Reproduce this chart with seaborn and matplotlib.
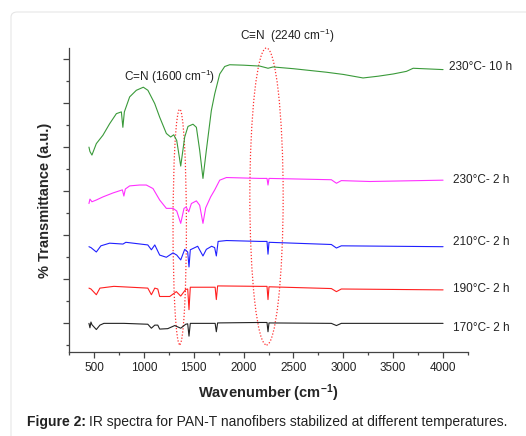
import matplotlib
matplotlib.use("Agg")
import matplotlib.pyplot as plt
import seaborn as sns
import pandas as pd
from matplotlib.patches import Ellipse, FancyBboxPatch
from matplotlib.ticker import MultipleLocator
from matplotlib.transforms import offset_copy

# ---------------- data ----------------
labels = ["170°C- 2 h", "190°C- 2 h", "210°C- 2 h", "230°C- 2 h", "230°C- 10 h"]
colors = ["#222222", "#ff2020", "#2020ff", "#ff30ff", "#3a9a3a"]

wn_170 = [450, 460, 470, 480, 524, 560, 600, 800, 1040, 1076, 1110, 1140, 1159, 1240, 1310, 1370, 1420, 1440, 1453, 1466, 1700, 1715, 1727, 1740, 2162, 2235, 2245, 2255, 2880, 2931, 2980, 4000]
t_170 = [0.0, -0.1, 0.03, -0.03, -0.14, -0.04, 0.0, 0.0, -0.02, -0.11, -0.04, -0.04, -0.13, -0.12, -0.05, -0.11, -0.02, -0.01, -0.29, 0.0, 0.0, 0.0, -0.19, 0.01, 0.02, 0.02, -0.19, 0.01, 0.0, -0.05, 0.0, 0.0]

wn_190 = [450, 470, 524, 560, 700, 1040, 1076, 1110, 1140, 1159, 1260, 1326, 1370, 1420, 1440, 1453, 1466, 1700, 1715, 1727, 1740, 2162, 2235, 2245, 2255, 2880, 2931, 2980, 4000]
t_190 = [0.80, 0.78, 0.65, 0.80, 0.84, 0.80, 0.65, 0.80, 0.78, 0.61, 0.61, 0.72, 0.62, 0.77, 0.78, 0.31, 0.82, 0.82, 0.82, 0.54, 0.85, 0.84, 0.84, 0.54, 0.83, 0.79, 0.72, 0.78, 0.76]

wn_210 = [450, 470, 524, 570, 657, 791, 820, 1040, 1076, 1110, 1159, 1226, 1293, 1330, 1370, 1410, 1440, 1453, 1466, 1540, 1593, 1627, 1680, 1710, 1727, 1745, 1830, 2162, 2235, 2245, 2255, 2880, 2931, 2980, 4000]
t_210 = [1.74, 1.72, 1.62, 1.76, 1.82, 1.80, 1.84, 1.78, 1.67, 1.78, 1.55, 1.50, 1.60, 1.55, 1.44, 1.68, 1.62, 1.28, 1.67, 1.75, 1.53, 1.68, 1.75, 1.72, 1.53, 1.86, 1.88, 1.86, 1.86, 1.57, 1.84, 1.79, 1.71, 1.76, 1.74]

wn_230 = [450, 460, 480, 524, 590, 691, 785, 800, 815, 858, 958, 1025, 1092, 1159, 1226, 1293, 1330, 1370, 1403, 1425, 1450, 1477, 1527, 1560, 1593, 1620, 1670, 1711, 1761, 1828, 2162, 2235, 2245, 2255, 2880, 2931, 2980, 3266, 4000]
t_230 = [2.72, 2.82, 2.76, 2.80, 2.87, 2.96, 3.03, 2.89, 3.05, 3.12, 3.14, 3.14, 3.06, 2.80, 2.61, 2.61, 2.55, 2.27, 2.61, 2.64, 2.53, 2.72, 2.78, 2.68, 2.27, 2.62, 2.87, 3.03, 3.25, 3.31, 3.29, 3.29, 3.14, 3.29, 3.26, 3.18, 3.24, 3.22, 3.25]

wn_230_10 = [450, 460, 480, 524, 590, 657, 725, 775, 790, 805, 858, 925, 995, 1041, 1109, 1159, 1226, 1269, 1300, 1330, 1370, 1410, 1443, 1493, 1527, 1560, 1593, 1627, 1677, 1711, 1761, 1811, 1861, 2000, 2162, 2230, 2245, 2296, 2500, 2831, 3000, 3198, 3350, 3499, 3633, 3700, 3800, 4000]
t_230_10 = [4.00, 3.90, 3.82, 4.08, 4.27, 4.53, 4.76, 4.80, 4.45, 4.80, 5.14, 5.29, 5.36, 5.29, 4.99, 4.68, 4.31, 4.23, 4.28, 4.15, 3.57, 4.23, 4.47, 4.52, 4.45, 3.93, 3.29, 3.93, 4.83, 5.21, 5.66, 5.83, 5.87, 5.86, 5.84, 5.80, 5.79, 5.82, 5.78, 5.70, 5.65, 5.57, 5.61, 5.66, 5.72, 5.79, 5.78, 5.76]

label_x = [4100, 4100, 4100, 4100, 4055]
label_y = [-0.1, 0.79, 1.85, 3.25, 5.82]

xticks = [500, 1000, 1500, 2000, 2500, 3000, 3500, 4000]

# ---------------- build long table ----------------
series = [(wn_170, t_170), (wn_190, t_190), (wn_210, t_210), (wn_230, t_230), (wn_230_10, t_230_10)]
frames = []
for lab, (w, t) in zip(labels, series):
    frames.append(pd.DataFrame({"wn": w, "T": t, "sample": lab}))
df = pd.concat(frames, ignore_index=True)

# ---------------- style ----------------
sns.set_theme(style="ticks")
plt.rcParams["font.family"] = ["Liberation Sans", "DejaVu Sans"]
plt.rcParams["mathtext.fontset"] = "custom"
plt.rcParams["mathtext.rm"] = "Liberation Sans"
plt.rcParams["mathtext.bf"] = "Liberation Sans:bold"
plt.rcParams["mathtext.it"] = "Liberation Sans:italic"

W, H = 526, 436
fig = plt.figure(figsize=(W / 100, H / 100), dpi=100)
fig.patch.set_facecolor("white")

# rounded border of the figure panel
border = FancyBboxPatch((11 / W, -0.1), 1.2, (H - 12) / H + 0.1,
                        boxstyle="round,pad=0,rounding_size=0.012",
                        transform=fig.transFigure, facecolor="none",
                        edgecolor="#e6e6e6", linewidth=0.8)
fig.patches.append(border)

ax = fig.add_axes([69 / W, (H - 352) / H, (468 - 69) / W, (352 - 48) / H])

sns.lineplot(data=df, x="wn", y="T", hue="sample", palette=dict(zip(labels, colors)),
             hue_order=labels, linewidth=0.8, legend=False, ax=ax, sort=False,
             estimator=None)

ax.set_xlim(250, 4250)
ax.set_ylim(-0.65, 6.25)
ax.set_xticks(xticks)
ax.xaxis.set_minor_locator(MultipleLocator(250))
ax.yaxis.set_major_locator(MultipleLocator(1))
ax.yaxis.set_minor_locator(MultipleLocator(0.5))
ax.set_yticklabels([])
ax.tick_params(axis="both", which="major", direction="out", length=4.5, width=0.9,
               color="#444444", labelsize=8.5, labelcolor="#222222", pad=3)
ax.tick_params(axis="both", which="minor", direction="out", length=2.5, width=0.9,
               color="#444444")
for s in ["top", "right"]:
    ax.spines[s].set_visible(False)
for s in ["left", "bottom"]:
    ax.spines[s].set_color("#444444")
    ax.spines[s].set_linewidth(0.9)

ax.set_xlabel(r"Wavenumber (cm$^{\mathbf{-1}}$)", fontsize=10.5, fontweight="bold", labelpad=6)
ax.set_ylabel("% Transmittance (a.u.)", fontsize=10.5, fontweight="bold", labelpad=5)

# series labels
for lab, lx, ly in zip(labels, label_x, label_y):
    ax.text(lx, ly, lab, fontsize=8.5, color="#222222", va="center", ha="left", clip_on=False)

# dotted ellipses
e1 = Ellipse((1360, 2.19), 134, 5.34, fill=False, edgecolor="#ff3030", linestyle=(0, (1, 1.5)),
             linewidth=0.9, clip_on=False)
e2 = Ellipse((2230, 2.88), 334, 6.74, fill=False, edgecolor="#ff3030", linestyle=(0, (1, 1.5)),
             linewidth=0.9, clip_on=False)
ax.add_patch(e1)
ax.add_patch(e2)

# annotations
ax.text(1259, 5.59, r"C=N (1600 cm$^{-1}$)", fontsize=8.5, ha="center", va="center", color="#222222")
ax.text(2433, 6.53, r"C≡N  (2240 cm$^{-1}$)", fontsize=8.5, ha="center", va="center",
        color="#222222", clip_on=False)

# caption (bold lead-in followed by regular text)
cap1 = fig.text(27 / W, 1 - 421.5 / H, "Figure 2:", fontsize=10, fontweight="bold",
                ha="left", va="center", color="#222222")
fig.canvas.draw()
bb = cap1.get_window_extent(renderer=fig.canvas.get_renderer())
fig.text((bb.x1 + 3) / W, 1 - 421.5 / H,
         "IR spectra for PAN-T nanofibers stabilized at different temperatures.",
         fontsize=10, ha="left", va="center", color="#222222")

fig.savefig("out.png", dpi=100, facecolor="white")
